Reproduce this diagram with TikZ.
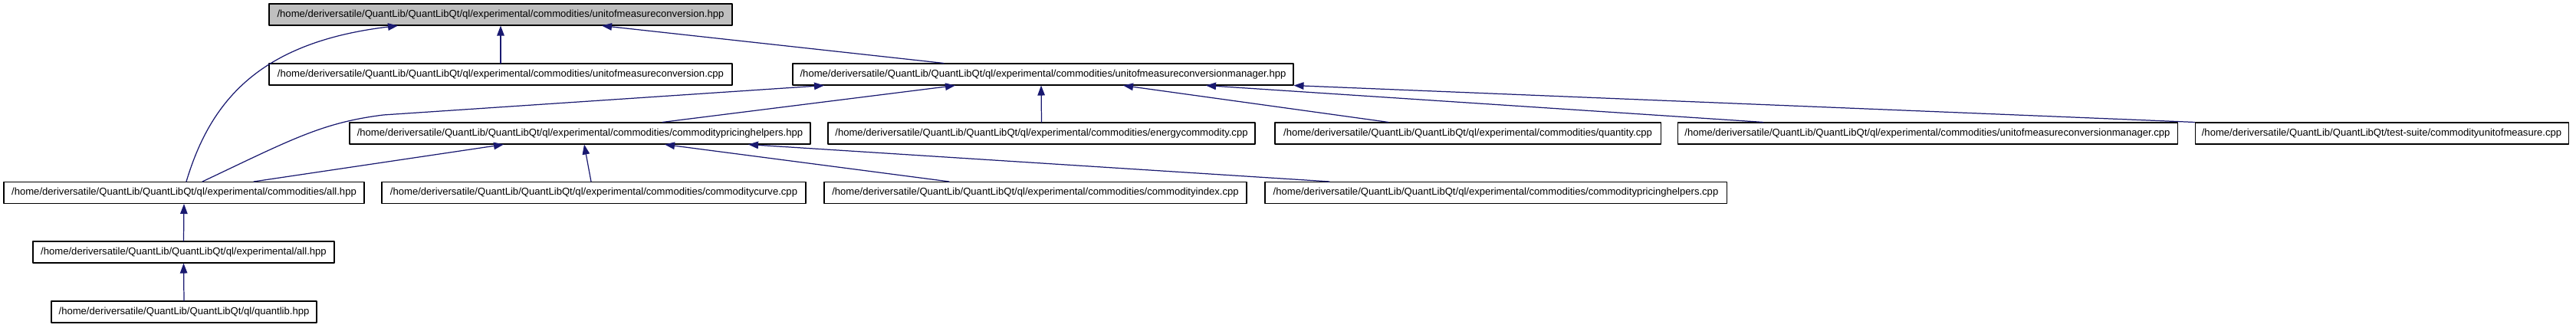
\documentclass[tikz,border=0pt]{standalone}
\usepackage{fontspec}
\setmainfont{Liberation Sans}
\usetikzlibrary{arrows.meta}
\definecolor{edgeblue}{HTML}{191970}
\definecolor{boxgray}{HTML}{BFBFBF}

\begin{document}
\begin{tikzpicture}[line cap=round,line join=round,
  file/.style={draw,line width=0.6pt,minimum height=0.56cm,inner sep=0pt,font=\fontsize{7.45}{9}\selectfont},
  dep/.style={draw=edgeblue,line width=0.7pt,-{Triangle[length=0.26cm,width=0.19cm,fill=edgeblue]}}]
  \useasboundingbox (0,0) rectangle (67.2,8.54);
  \node[file,fill=boxgray,minimum width=12.08cm] (convhpp) at (13.06,8.16) {/home/deriversatile/QuantLib/QuantLibQt/ql/experimental/commodities/unitofmeasureconversion.hpp};
  \node[file,minimum width=12.08cm] (convcpp) at (13.06,6.60) {/home/deriversatile/QuantLib/QuantLibQt/ql/experimental/commodities/unitofmeasureconversion.cpp};
  \node[file,minimum width=13.06cm] (mgrhpp) at (27.21,6.60) {/home/deriversatile/QuantLib/QuantLibQt/ql/experimental/commodities/unitofmeasureconversionmanager.hpp};
  \node[file,minimum width=12.02cm] (cphhpp) at (15.13,5.06) {/home/deriversatile/QuantLib/QuantLibQt/ql/experimental/commodities/commoditypricinghelpers.hpp};
  \node[file,minimum width=11.14cm] (energycpp) at (27.17,5.06) {/home/deriversatile/QuantLib/QuantLibQt/ql/experimental/commodities/energycommodity.cpp};
  \node[file,minimum width=10.06cm] (quantitycpp) at (38.29,5.06) {/home/deriversatile/QuantLib/QuantLibQt/ql/experimental/commodities/quantity.cpp};
  \node[file,minimum width=13.04cm] (mgrcpp) at (50.28,5.06) {/home/deriversatile/QuantLib/QuantLibQt/ql/experimental/commodities/unitofmeasureconversionmanager.cpp};
  \node[file,minimum width=9.74cm] (uomcpp) at (62.13,5.06) {/home/deriversatile/QuantLib/QuantLibQt/test-suite/commodityunitofmeasure.cpp};
  \node[file,minimum width=9.40cm] (allchpp) at (4.80,3.51) {/home/deriversatile/QuantLib/QuantLibQt/ql/experimental/commodities/all.hpp};
  \node[file,minimum width=11.06cm] (curvecpp) at (15.49,3.51) {/home/deriversatile/QuantLib/QuantLibQt/ql/experimental/commodities/commoditycurve.cpp};
  \node[file,minimum width=11.02cm] (indexcpp) at (27.01,3.51) {/home/deriversatile/QuantLib/QuantLibQt/ql/experimental/commodities/commodityindex.cpp};
  \node[file,minimum width=12.04cm] (cphcpp) at (39.02,3.51) {/home/deriversatile/QuantLib/QuantLibQt/ql/experimental/commodities/commoditypricinghelpers.cpp};
  \node[file,minimum width=7.86cm] (allehpp) at (4.79,1.96) {/home/deriversatile/QuantLib/QuantLibQt/ql/experimental/all.hpp};
  \node[file,minimum width=6.92cm] (qlibhpp) at (4.80,0.40) {/home/deriversatile/QuantLib/QuantLibQt/ql/quantlib.hpp};
  \draw[dep] (convcpp.north) -- (convhpp.south);
  \draw[dep] ([xshift=-2.59cm]mgrhpp.north) -- ([xshift=2.64cm]convhpp.south);
  \draw[dep] ([xshift=0.06cm]allchpp.north) .. controls (5.50,5.94) and (6.80,7.44) .. ([xshift=-2.68cm]convhpp.south);
  \draw[dep] ([xshift=0.48cm]allchpp.north) .. controls (7.60,4.90) and (8.40,5.34) .. (10.00,5.54) -- ([xshift=-5.71cm]mgrhpp.south);
  \draw[dep] ([xshift=1.82cm]allchpp.north) -- ([xshift=-1.99cm]cphhpp.south);
  \draw[dep] ([xshift=2.15cm]cphhpp.north) -- ([xshift=-2.29cm]mgrhpp.south);
  \draw[dep] (energycpp.north) -- ([xshift=-0.05cm]mgrhpp.south);
  \draw[dep] ([xshift=-2.07cm]quantitycpp.north) -- ([xshift=2.09cm]mgrhpp.south);
  \draw[dep] ([xshift=-4.28cm]mgrcpp.north) -- ([xshift=4.25cm]mgrhpp.south);
  \draw[dep] (uomcpp.north west) -- (mgrhpp.south east);
  \draw[dep] ([xshift=-0.07cm]curvecpp.north) -- ([xshift=0.11cm]cphhpp.south);
  \draw[dep] ([xshift=-2.25cm]indexcpp.north) -- ([xshift=2.21cm]cphhpp.south);
  \draw[dep] ([xshift=-4.34cm]cphcpp.north) -- ([xshift=4.39cm]cphhpp.south);
  \draw[dep] (allehpp.north) -- (allchpp.south);
  \draw[dep] (qlibhpp.north) -- (allehpp.south);
\end{tikzpicture}
\end{document}
